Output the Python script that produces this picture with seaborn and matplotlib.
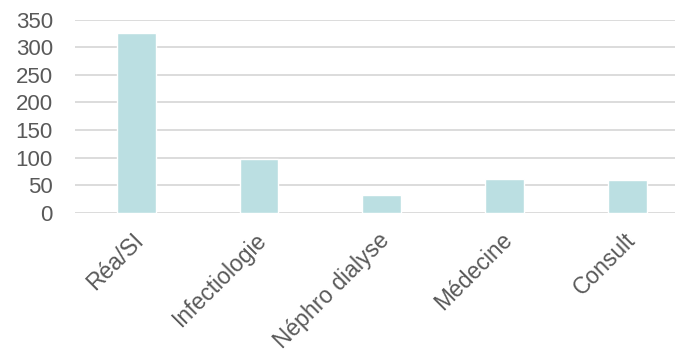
import matplotlib
matplotlib.use("Agg")
import matplotlib.pyplot as plt
import matplotlib.transforms as mtransforms
import seaborn as sns
import pandas as pd

# Data
services = ["Réa/SI", "Infectiologie", "Néphro dialyse", "Médecine", "Consult"]
counts = [325, 97, 33, 62, 60]
yticks = [0, 50, 100, 150, 200, 250, 300, 350]

df = pd.DataFrame({"service": services, "count": counts})

sns.set_theme(style="white")
plt.rcParams["font.family"] = ["Liberation Sans", "DejaVu Sans"]

fig = plt.figure(figsize=(6.75, 3.55), dpi=100)
ax = fig.add_axes([0.1104, 0.40, 0.911, 0.545])

sns.barplot(data=df, x="service", y="count", color="#BBDFE2", saturation=1,
            width=0.317, ax=ax, zorder=3)

ax.set_xlim(-0.5, 4.5)
ax.set_ylim(0, 350)
ax.set_yticks(yticks)
ax.yaxis.grid(True, color="#D9D9D9", linewidth=1.3, zorder=0)
ax.set_axisbelow(True)
for s in ax.spines.values():
    s.set_visible(False)
ax.set_xlabel("")
ax.set_ylabel("")

ax.tick_params(axis="y", length=0, pad=15.5, labelsize=16, labelcolor="#595959")
ax.tick_params(axis="x", length=0, pad=17, labelsize=16.5, labelcolor="#595959")
shift = mtransforms.ScaledTranslation(3 / 72, 0, fig.dpi_scale_trans)
for lbl in ax.get_xticklabels():
    lbl.set_rotation(45)
    lbl.set_ha("right")
    lbl.set_va("center")
    lbl.set_rotation_mode("anchor")
    lbl.set_transform(lbl.get_transform() + shift)

fig.savefig("out.png", dpi=100)
